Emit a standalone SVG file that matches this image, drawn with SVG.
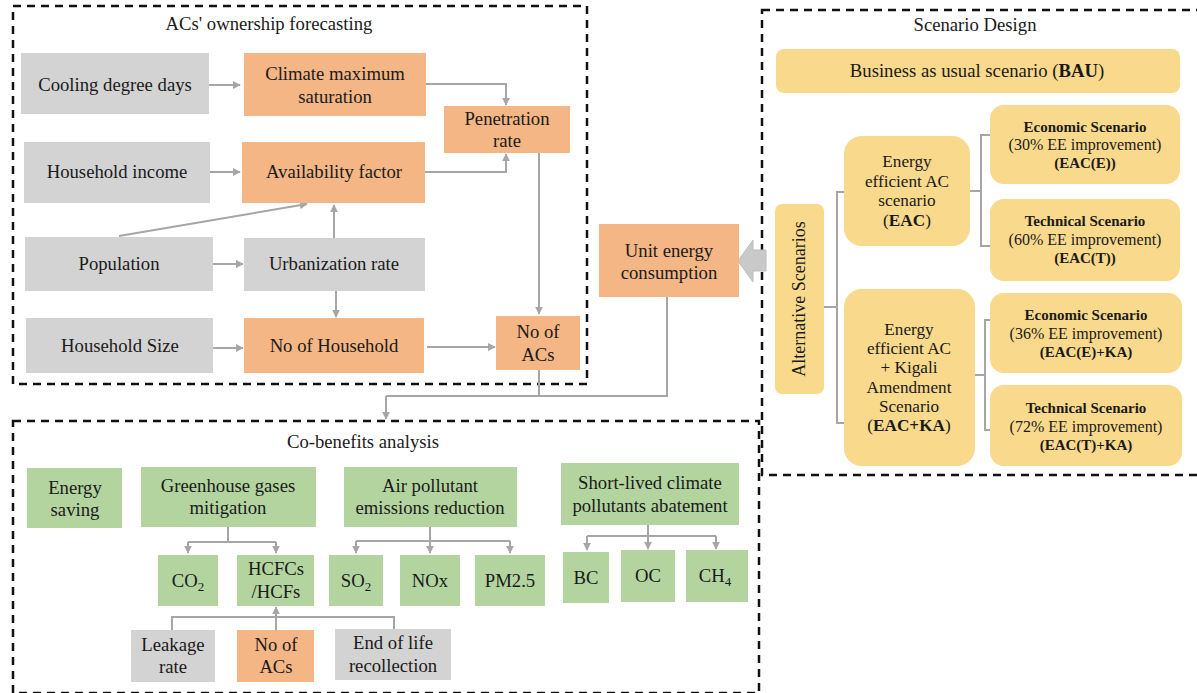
<svg xmlns="http://www.w3.org/2000/svg" width="1197" height="693" viewBox="0 0 1197 693">
<defs>
<marker id="ah" viewBox="0 0 10 10" refX="9" refY="5" markerWidth="4" markerHeight="4" orient="auto" markerUnits="strokeWidth">
<path d="M0,0 L10,5 L0,10 z" fill="#a6a6a6"/>
</marker>
<style>
text{font-family:"Liberation Serif","Times New Roman",serif;fill:#1a1a1a;text-anchor:middle}
.t{font-size:18.7px}
.h{font-size:18.7px}
.m{font-size:17.2px}
.s{font-size:15px}
.p{font-size:16px}
.b{font-weight:bold}
.g{fill:#d3d3d3}
.o{fill:#f3b684}
.gr{fill:#b3d49f}
.y{fill:#f9d98b}
.dash{fill:none;stroke:#111;stroke-width:2.5;stroke-dasharray:8 6}
.c{fill:none;stroke:#a6a6a6;stroke-width:2}
.ca{fill:none;stroke:#a6a6a6;stroke-width:2;marker-end:url(#ah)}
</style>
</defs>
<rect width="1197" height="693" fill="#fff"/>

<!-- containers -->
<g id="frames">
<rect class="dash" x="13" y="6" width="574" height="378"/>
<text class="h" x="269" y="30">ACs' ownership forecasting</text>
<rect class="dash" x="762" y="10" width="440" height="465"/>
<text class="h" x="975" y="31">Scenario Design</text>
<rect class="dash" x="13" y="421" width="746" height="272"/>
<text class="h" x="363" y="448">Co-benefits analysis</text>
</g>

<!-- connectors -->
<g id="connectors">
<line class="ca" x1="209" y1="85" x2="240" y2="85"/>
<polyline class="ca" points="426,84 506,84 506,105"/>
<line class="ca" x1="210" y1="172" x2="240" y2="172"/>
<polyline class="ca" points="425,172 506,172 506,154"/>
<line class="ca" x1="119" y1="236" x2="307" y2="204"/>
<line class="ca" x1="334" y1="238" x2="334" y2="205"/>
<line class="ca" x1="213" y1="264" x2="243" y2="264"/>
<line class="ca" x1="336" y1="291" x2="336" y2="317"/>
<line class="ca" x1="213" y1="348" x2="243" y2="348"/>
<line class="ca" x1="427" y1="347" x2="495" y2="347"/>
<line class="ca" x1="539" y1="153" x2="539" y2="314"/>
<polyline class="c" points="539,370 539,396"/>
<polyline class="c" points="667,297 667,396 386,396"/>
<line class="ca" x1="386" y1="396" x2="386" y2="419"/>
<polygon points="738,261 753,240 753,250 766,250 766,271 753,271 753,282" fill="#c9c9c9" stroke="#bdbdbd" stroke-width="1"/>
<!-- scenario brackets -->
<polyline class="c" points="849,192 837,192 837,423 849,423"/>
<line class="c" x1="824" y1="307" x2="837" y2="307"/>
<polyline class="c" points="990,135 981,135 981,246 990,246"/>
<line class="c" x1="970" y1="191" x2="981" y2="191"/>
<polyline class="c" points="995,320 985,320 985,430 995,430"/>
<line class="c" x1="975" y1="375" x2="985" y2="375"/>
<!-- co-benefits -->
<line class="c" x1="228" y1="527" x2="228" y2="542"/>
<polyline class="c" points="188,542 276,542"/>
<line class="ca" x1="188" y1="542" x2="188" y2="553"/>
<line class="ca" x1="276" y1="542" x2="276" y2="553"/>
<line class="c" x1="430" y1="527" x2="430" y2="541"/>
<polyline class="c" points="356,541 510,541"/>
<line class="ca" x1="356" y1="541" x2="356" y2="553"/>
<line class="ca" x1="430" y1="541" x2="430" y2="553"/>
<line class="ca" x1="510" y1="541" x2="510" y2="553"/>
<line class="c" x1="648" y1="525" x2="648" y2="536"/>
<polyline class="c" points="587,536 716,536"/>
<line class="ca" x1="587" y1="536" x2="587" y2="550"/>
<line class="ca" x1="648" y1="536" x2="648" y2="549"/>
<line class="ca" x1="716" y1="536" x2="716" y2="549"/>
<polyline class="c" points="172,630 172,617 394,617 394,629"/>
<line class="ca" x1="276" y1="630" x2="276" y2="607"/>
</g>

<!-- ACs' ownership nodes -->
<g id="cdd"><rect class="g" x="21" y="53" width="188" height="61"/><text class="t" x="115" y="91">Cooling degree days</text></g>
<g id="cms"><rect class="o" x="244" y="53" width="182" height="63"/><text class="t" x="335" y="80">Climate maximum</text><text class="t" x="335" y="103">saturation</text></g>
<g id="pen"><rect class="o" x="444" y="106" width="126" height="47"/><text class="t" x="507" y="125">Penetration</text><text class="t" x="507" y="147">rate</text></g>
<g id="hinc"><rect class="g" x="24" y="142" width="186" height="61"/><text class="t" x="117" y="178">Household income</text></g>
<g id="avf"><rect class="o" x="242" y="142" width="183" height="61"/><text class="t" x="334" y="178">Availability factor</text></g>
<g id="pop"><rect class="g" x="25" y="237" width="188" height="54"/><text class="t" x="119" y="270">Population</text></g>
<g id="urb"><rect class="g" x="244" y="238" width="181" height="53"/><text class="t" x="334" y="270">Urbanization rate</text></g>
<g id="hsize"><rect class="g" x="26" y="318" width="187" height="55"/><text class="t" x="120" y="352">Household Size</text></g>
<g id="nhh"><rect class="o" x="244" y="318" width="180" height="55"/><text class="t" x="334" y="352">No of Household</text></g>
<g id="nac"><rect class="o" x="496" y="316" width="84" height="54"/><text class="t" x="538" y="338">No of</text><text class="t" x="538" y="361">ACs</text></g>

<g id="uec"><rect class="o" x="599" y="224" width="140" height="73"/><text class="t" x="669" y="257">Unit energy</text><text class="t" x="669" y="279">consumption</text></g>

<!-- Scenario nodes -->
<g id="bau"><rect class="y" x="776" y="49" width="404" height="44" rx="8"/><text class="t" x="977" y="77">Business as usual scenario (<tspan class="b">BAU</tspan>)</text></g>
<g id="alt"><rect class="y" x="775" y="204" width="49" height="190" rx="7"/><text class="t" transform="translate(805,299) rotate(-90)" style="font-size:18px">Alternative Scenarios</text></g>
<g id="eac"><rect class="y" x="844" y="136" width="126" height="110" rx="18"/>
<text class="m" x="907" y="167">Energy</text><text class="m" x="907" y="187">efficient AC</text><text class="m" x="907" y="206">scenario</text><text class="m" x="907" y="226">(<tspan class="b">EAC</tspan>)</text></g>
<g id="eacka"><rect class="y" x="844" y="289" width="131" height="177" rx="18"/>
<text class="m" x="909" y="335">Energy</text><text class="m" x="909" y="354">efficient AC</text><text class="m" x="909" y="373">+ Kigali</text><text class="m" x="909" y="393">Amendment</text><text class="m" x="909" y="412">Scenario</text><text class="m" x="909" y="431">(<tspan class="b">EAC+KA</tspan>)</text></g>
<g id="eco30"><rect class="y" x="990" y="105" width="190" height="79" rx="14"/>
<text class="s b" x="1085" y="132">Economic Scenario</text><text class="p" x="1085" y="150">(30% EE improvement)</text><text class="s b" x="1085" y="168">(EAC(E))</text></g>
<g id="tech60"><rect class="y" x="990" y="199" width="190" height="82" rx="14"/>
<text class="s b" x="1085" y="226">Technical Scenario</text><text class="p" x="1085" y="245">(60% EE improvement)</text><text class="s b" x="1085" y="263">(EAC(T))</text></g>
<g id="eco36"><rect class="y" x="990" y="293" width="192" height="80" rx="14"/>
<text class="s b" x="1086" y="320">Economic Scenario</text><text class="p" x="1086" y="339">(36% EE improvement)</text><text class="s b" x="1086" y="357">(EAC(E)+KA)</text></g>
<g id="tech72"><rect class="y" x="990" y="385" width="192" height="81" rx="14"/>
<text class="s b" x="1086" y="413">Technical Scenario</text><text class="p" x="1086" y="432">(72% EE improvement)</text><text class="s b" x="1086" y="450">(EAC(T)+KA)</text></g>

<!-- Co-benefits nodes -->
<g id="es"><rect class="gr" x="27" y="468" width="95" height="60"/><text class="t" x="75" y="494">Energy</text><text class="t" x="75" y="516">saving</text></g>
<g id="ghg"><rect class="gr" x="141" y="467" width="175" height="60"/><text class="t" x="228" y="492">Greenhouse gases</text><text class="t" x="228" y="514">mitigation</text></g>
<g id="apr"><rect class="gr" x="344" y="467" width="173" height="60"/><text class="t" x="430" y="492">Air pollutant</text><text class="t" x="430" y="514">emissions reduction</text></g>
<g id="slcp"><rect class="gr" x="561" y="463" width="178" height="62"/><text class="t" x="650" y="489">Short-lived climate</text><text class="t" x="650" y="512">pollutants abatement</text></g>
<g id="co2"><rect class="gr" x="158" y="555" width="60" height="51"/><text class="t" x="188" y="587">CO<tspan dy="4" font-size="13">2</tspan></text></g>
<g id="hcfc"><rect class="gr" x="237" y="555" width="77" height="51"/><text class="t" x="276" y="575">HCFCs</text><text class="t" x="276" y="598">/HCFs</text></g>
<g id="so2"><rect class="gr" x="329" y="555" width="54" height="51"/><text class="t" x="356" y="587">SO<tspan dy="4" font-size="13">2</tspan></text></g>
<g id="nox"><rect class="gr" x="400" y="555" width="60" height="51"/><text class="t" x="430" y="587">NOx</text></g>
<g id="pm"><rect class="gr" x="475" y="555" width="70" height="51"/><text class="t" x="510" y="587">PM2.5</text></g>
<g id="bc"><rect class="gr" x="563" y="552" width="46" height="51"/><text class="t" x="586" y="584">BC</text></g>
<g id="oc"><rect class="gr" x="621" y="550" width="54" height="52"/><text class="t" x="648" y="582">OC</text></g>
<g id="ch4"><rect class="gr" x="686" y="550" width="62" height="52"/><text class="t" x="715" y="582">CH<tspan dy="4" font-size="13">4</tspan></text></g>
<g id="leak"><rect class="g" x="131" y="630" width="84" height="52"/><text class="t" x="173" y="651">Leakage</text><text class="t" x="173" y="673">rate</text></g>
<g id="nac2"><rect class="o" x="237" y="630" width="77" height="52"/><text class="t" x="276" y="651">No of</text><text class="t" x="276" y="673">ACs</text></g>
<g id="eol"><rect class="g" x="335" y="629" width="116" height="51"/><text class="t" x="393" y="649">End of life</text><text class="t" x="393" y="672">recollection</text></g>
</svg>
